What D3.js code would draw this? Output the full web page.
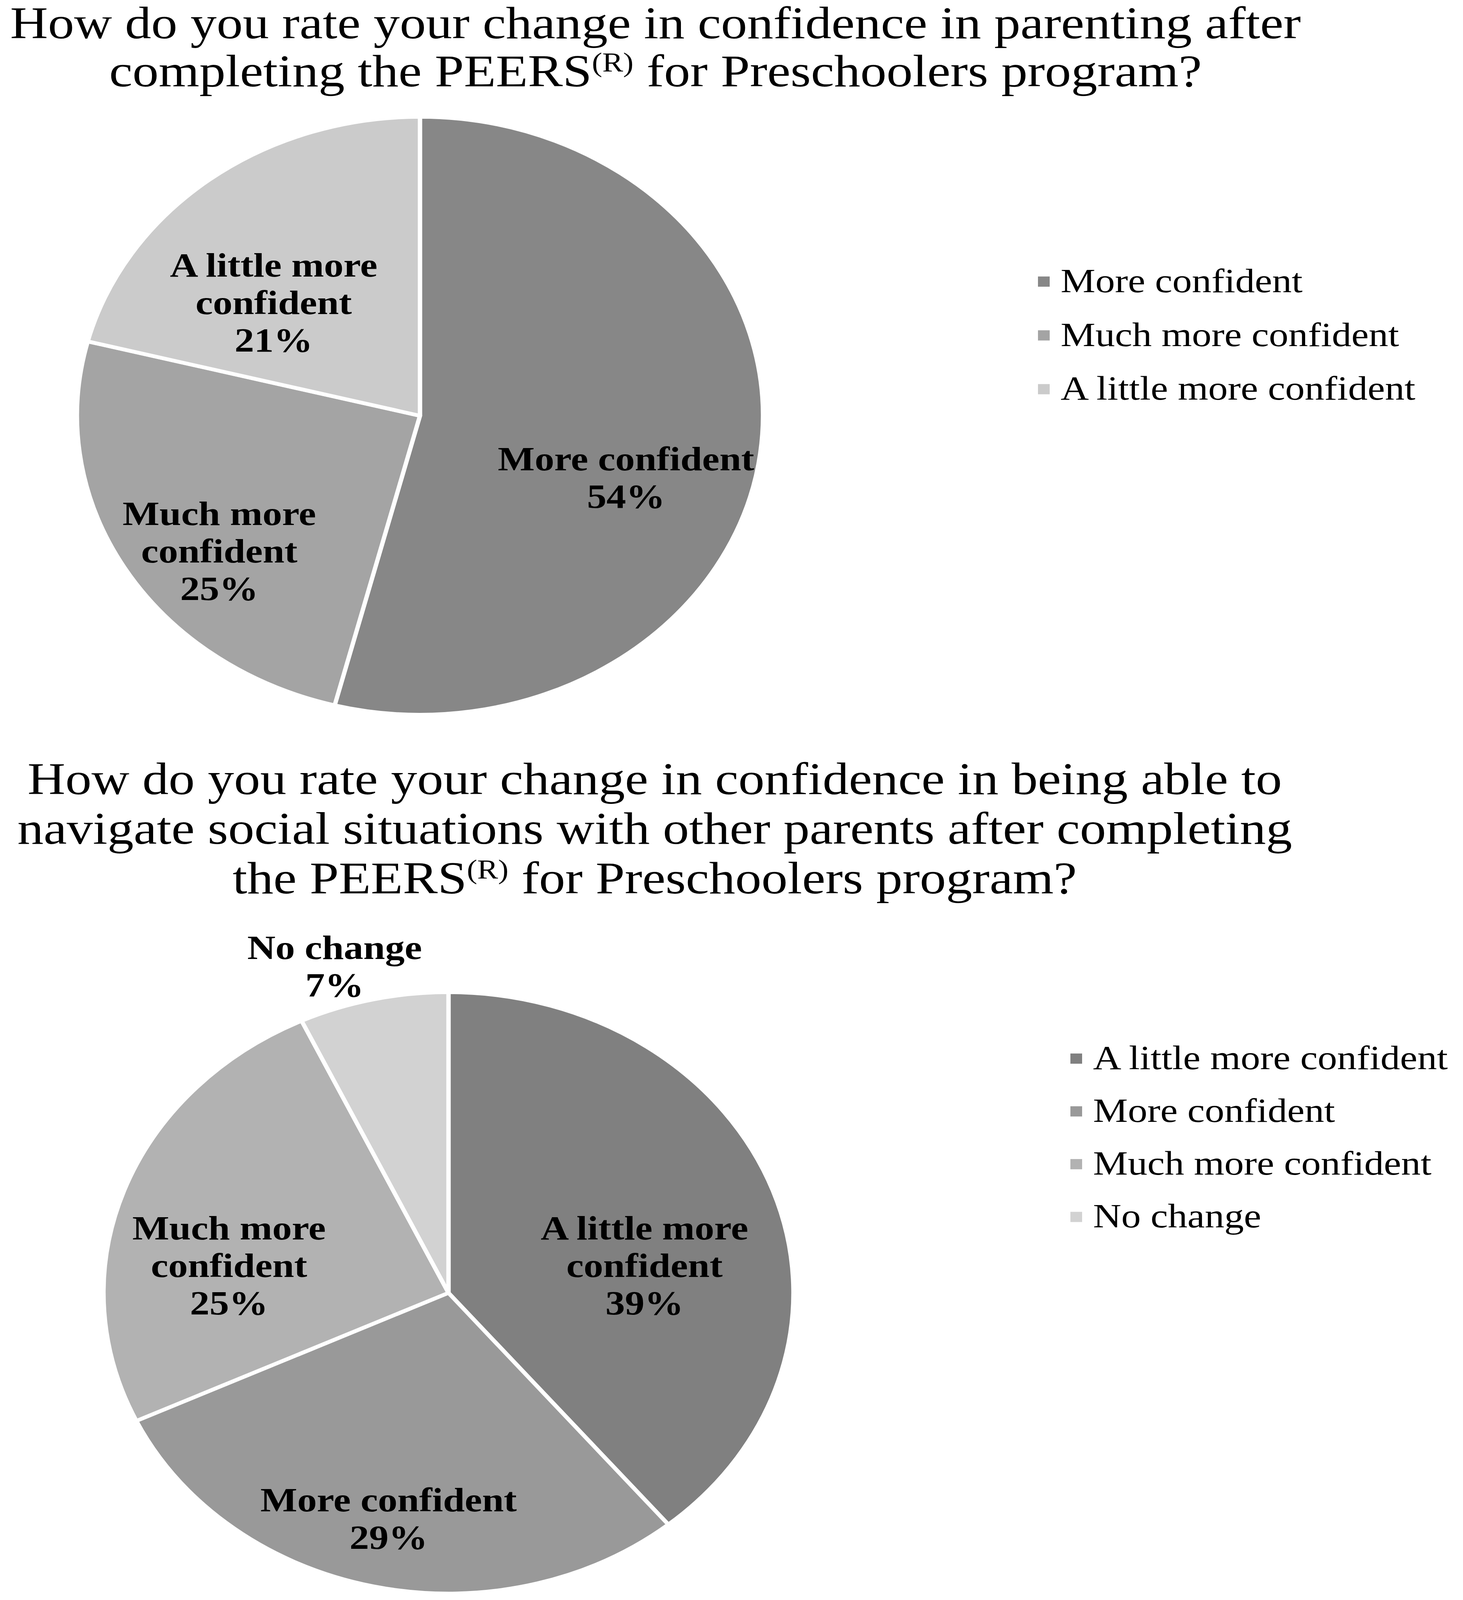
<!DOCTYPE html>
<html>
<head>
<meta charset="utf-8">
<script src="https://cdn.jsdelivr.net/npm/d3@7"></script>
<style>
  html, body { margin: 0; padding: 0; width: 100%; height: 100%; overflow: hidden; background: #fff; }
  svg { display: block; }
</style>
</head>
<body>
<div id="chart"></div>
<script>
// chart data
const title1 = ["How do you rate your change in confidence in parenting after",
                "completing the PEERS^(R) for Preschoolers program?"];
const categories1 = ["More confident", "Much more confident", "A little more confident"];
const values1 = [54, 25, 21];
const colors1 = ["#878787", "#a4a4a4", "#cbcbcb"];

const title2 = ["How do you rate your change in confidence in being able to",
                "navigate social situations with other parents after completing",
                "the PEERS^(R) for Preschoolers program?"];
const categories2 = ["A little more confident", "More confident", "Much more confident", "No change"];
const values2 = [39, 29, 25, 7];
const colors2 = ["#808080", "#999999", "#b2b2b2", "#d2d2d2"];

const W = 3745, H = 4699;
const serif = "'Liberation Serif', 'Times New Roman', serif";

// fit the drawing to whatever viewport we get
const vw = window.innerWidth || W, vh = window.innerHeight || H;
const svg = d3.select("#chart").append("svg")
  .attr("width", vw)
  .attr("height", vh)
  .attr("viewBox", `0 0 ${W} ${H}`)
  .attr("preserveAspectRatio", "none");

svg.append("rect").attr("width", W).attr("height", H).attr("fill", "#fff");

function drawTitle(lines, cx, y0, lh) {
  const t = svg.append("text")
    .attr("text-anchor", "middle")
    .attr("font-family", serif)
    .attr("font-size", 134)
    .attr("fill", "#000");
  lines.forEach((line, i) => {
    const row = t.append("tspan").attr("x", cx).attr("y", y0 + i * lh);
    const parts = line.split("^(R)");
    row.text(parts[0]);
    if (parts.length > 1) {
      row.append("tspan")
        .attr("font-size", 80)
        .attr("dy", -44)
        .text("(R)");
      row.append("tspan")
        .attr("dy", 44)
        .text(parts[1]);
    }
  });
}

function wrapWords(str, maxW, measure) {
  const words = str.split(" ");
  const lines = [];
  let cur = words[0];
  for (let i = 1; i < words.length; i++) {
    const test = cur + " " + words[i];
    if (measure(test) > maxW) { lines.push(cur); cur = words[i]; }
    else cur = test;
  }
  lines.push(cur);
  return lines;
}

function drawPie(opt) {
  const { cats, vals, cols, cx, cy, r, legendX, legendY, legendStep } = opt;
  const g = svg.append("g").attr("transform", `translate(${cx},${cy})`);

  const pie = d3.pie().sort(null).value(d => d.v);
  const arcs = pie(cats.map((c, i) => ({ c, v: vals[i], col: cols[i] })));
  const arc = d3.arc().innerRadius(0).outerRadius(r);

  g.selectAll("path.slice")
    .data(arcs)
    .join("path")
    .attr("class", "slice")
    .attr("d", arc)
    .attr("fill", d => d.data.col)
    .attr("stroke", "#fff")
    .attr("stroke-width", 11)
    .attr("stroke-linejoin", "round");

  // hidden text for measuring label widths
  const probe = svg.append("text")
    .attr("font-family", serif).attr("font-size", 100).attr("font-weight", "bold")
    .attr("visibility", "hidden");
  const measure = s => { probe.text(s); return probe.node().getComputedTextLength(); };

  const inArc = d3.arc().innerRadius(r * 0.64).outerRadius(r * 0.64);
  const outArc = d3.arc().innerRadius(r * 1.15).outerRadius(r * 1.15);
  const lh = 110;

  arcs.forEach(d => {
    const outside = d.data.v < 10;
    const [lx, ly] = (outside ? outArc : inArc).centroid(d);
    const lines = wrapWords(d.data.c, 700, measure);
    lines.push(d.data.v + "%");
    const top = ly - (lines.length - 1) * lh / 2 + 35 + (outside ? 30 : 110);
    const t = g.append("text")
      .attr("text-anchor", "middle")
      .attr("font-family", serif)
      .attr("font-size", 100)
      .attr("font-weight", "bold")
      .attr("fill", "#000");
    lines.forEach((ln, i) => {
      t.append("tspan").attr("x", lx - (outside ? 70 : 30)).attr("y", top + i * lh).text(ln);
    });
  });
  probe.remove();

  // legend
  const lg = svg.append("g").attr("transform", `translate(${legendX},${legendY})`);
  const items = lg.selectAll("g").data(arcs).join("g")
    .attr("transform", (d, i) => `translate(0,${i * legendStep})`);
  items.append("rect")
    .attr("x", 0).attr("y", -46).attr("width", 30).attr("height", 30)
    .attr("fill", d => d.data.col);
  items.append("text")
    .attr("x", 58).attr("y", 0)
    .attr("font-family", serif)
    .attr("font-size", 100)
    .attr("fill", "#000")
    .text(d => d.data.c);
}

drawTitle(title1, 1678, 112, 142);
drawPie({ cats: categories1, vals: values1, cols: colors1,
          cx: 1075, cy: 1221, r: 878,
          legendX: 2657, legendY: 858, legendStep: 158 });

drawTitle(title2, 1676, 2332, 146);
drawPie({ cats: categories2, vals: values2, cols: colors2,
          cx: 1148, cy: 3797, r: 883,
          legendX: 2740, legendY: 3140, legendStep: 155 });
</script>
</body>
</html>
